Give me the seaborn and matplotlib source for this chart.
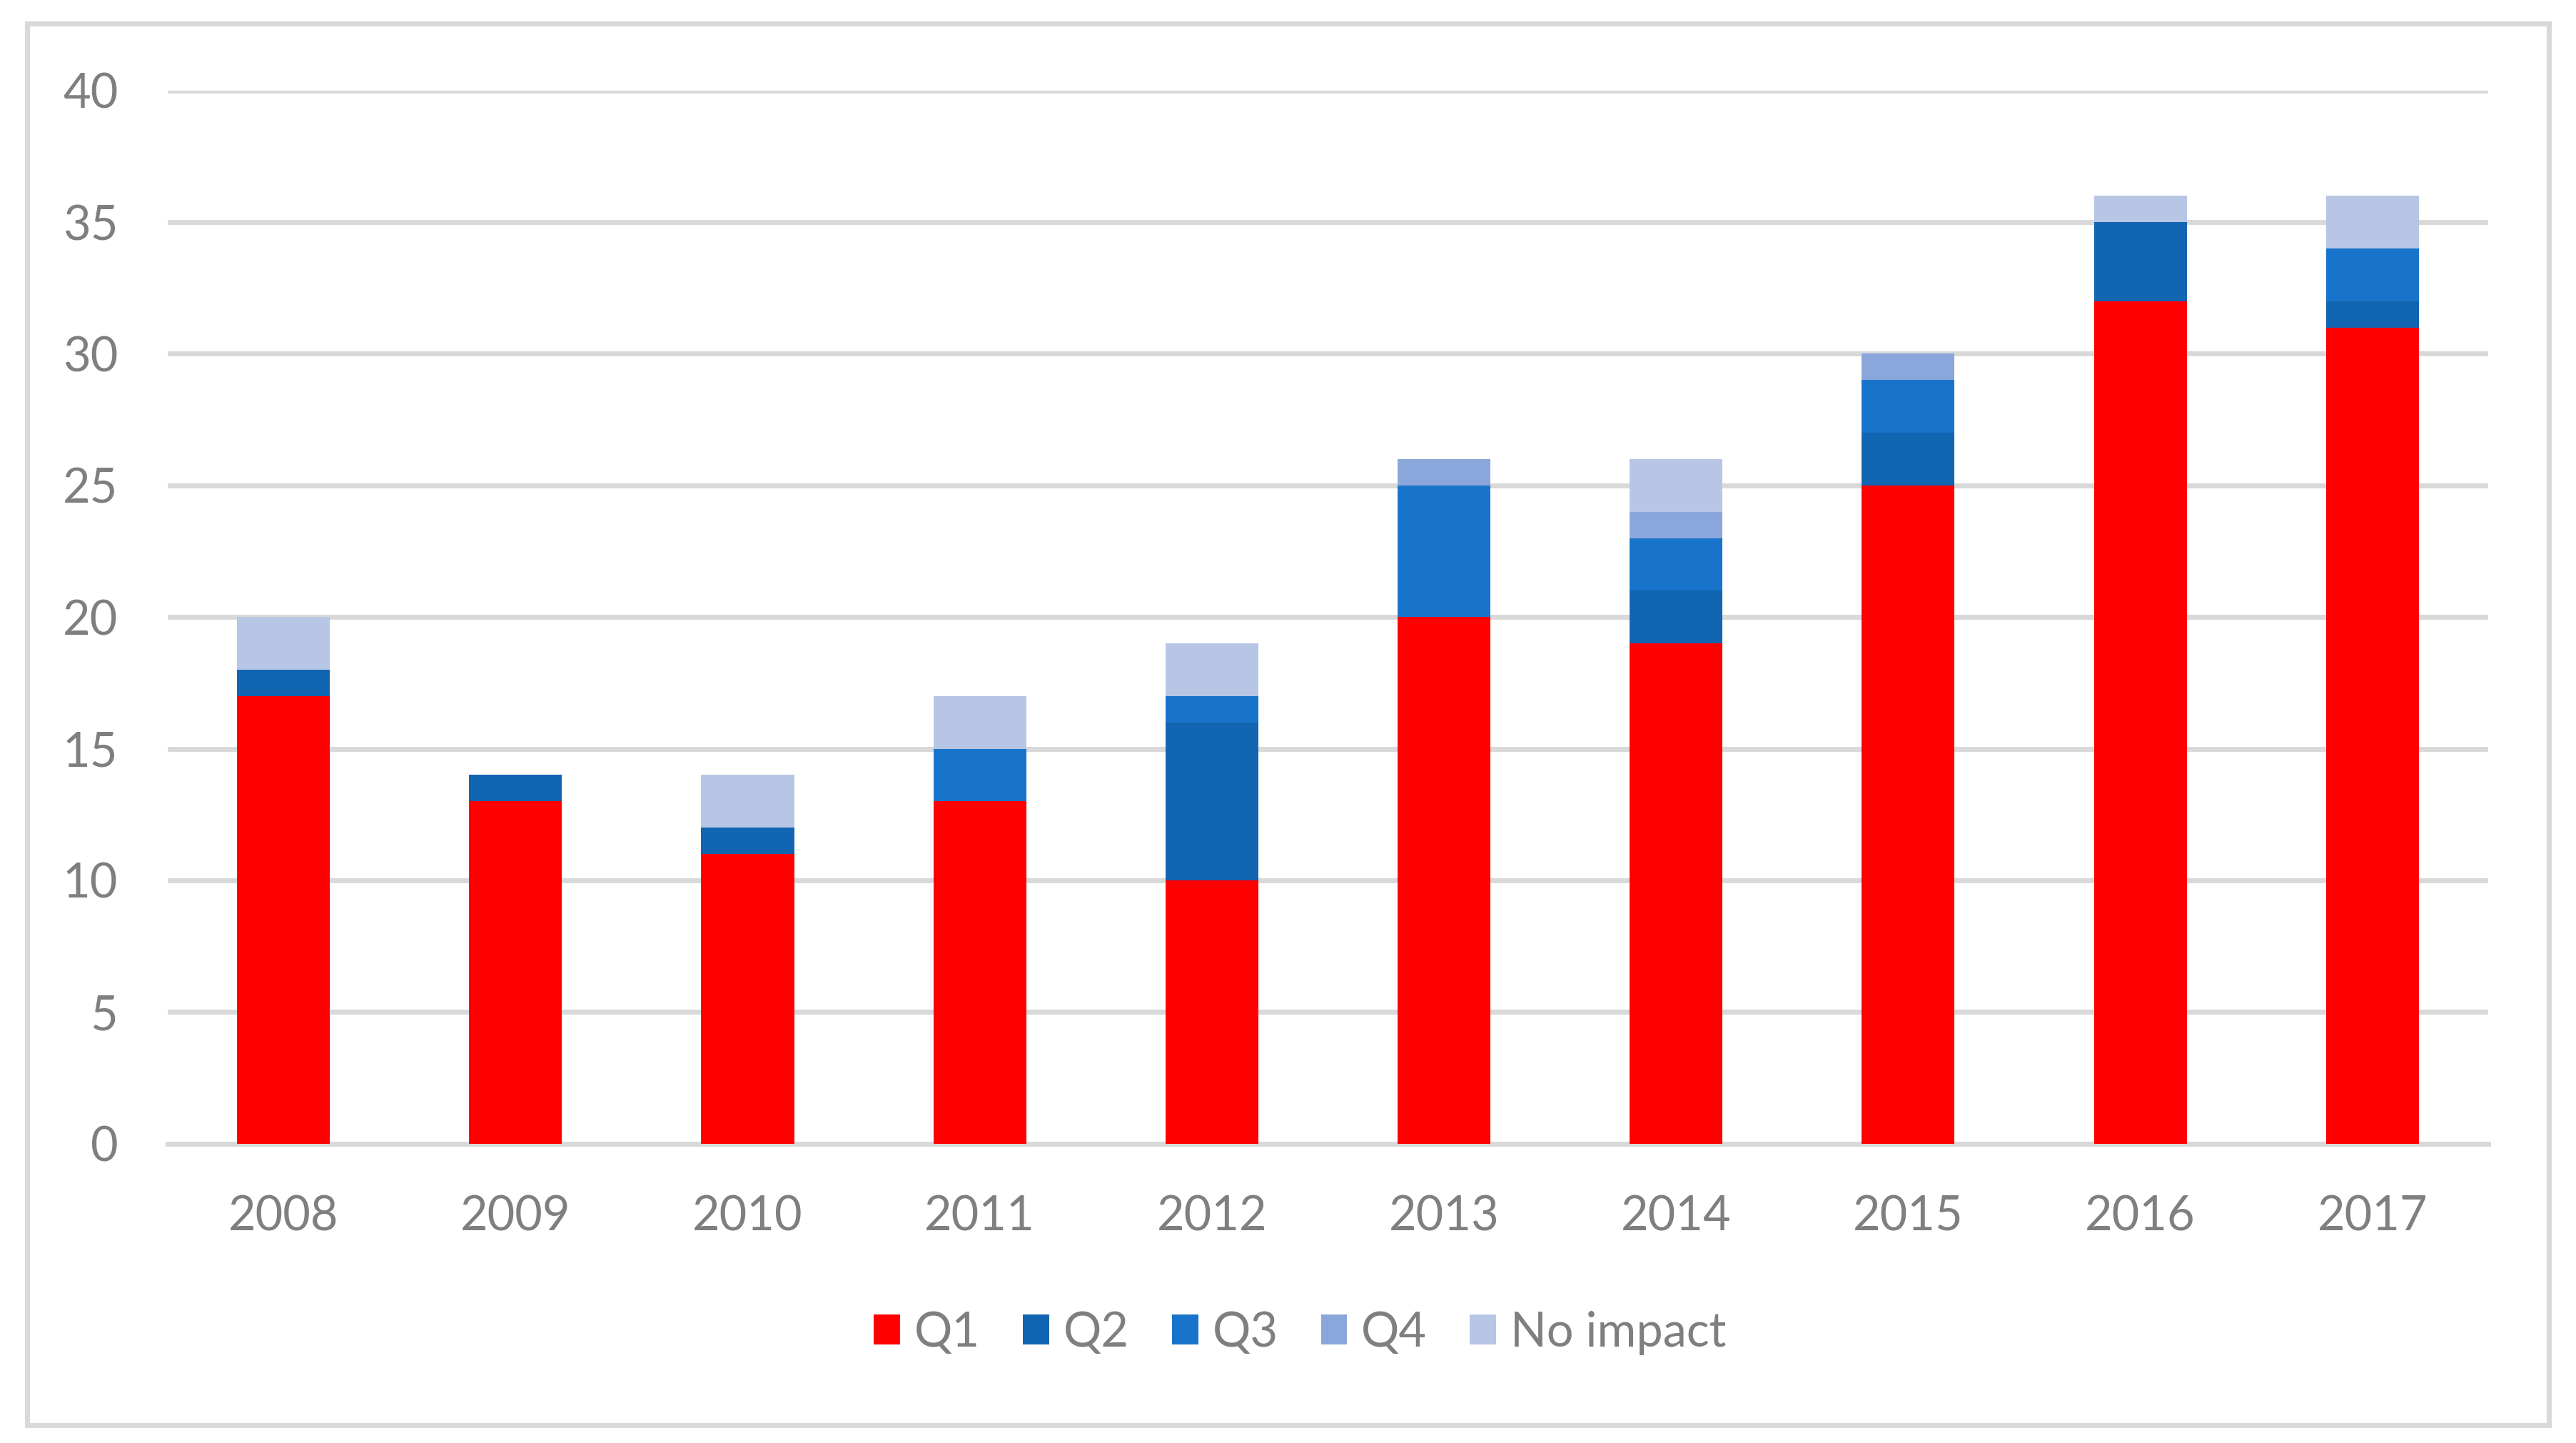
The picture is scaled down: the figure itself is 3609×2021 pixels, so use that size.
import numpy as np
import pandas as pd
import matplotlib
matplotlib.use("Agg")
import matplotlib.pyplot as plt
import seaborn as sns
from matplotlib.patches import Rectangle

# data
years = ["2008", "2009", "2010", "2011", "2012", "2013", "2014", "2015", "2016", "2017"]
q1 = [17, 13, 11, 13, 10, 20, 19, 25, 32, 31]
q2 = [1, 1, 1, 0, 6, 0, 2, 2, 3, 1]
q3 = [0, 0, 0, 2, 1, 5, 2, 2, 0, 2]
q4 = [0, 0, 0, 0, 0, 1, 1, 1, 0, 0]
no_impact = [2, 0, 2, 2, 2, 0, 2, 0, 1, 2]

series_names = ["Q1", "Q2", "Q3", "Q4", "No impact"]
series_colors = ["#FF0000", "#1265B1", "#1874CB", "#8BA6DA", "#B7C6E5"]

sns.set_theme(style="white")
plt.rcParams["font.family"] = ["Lato", "DejaVu Sans"]

fig = plt.figure(figsize=(18.045, 10.105), dpi=200)
ax = fig.add_axes([0.065, 0.2075, 0.901, 0.7298])

bottom = np.zeros(len(years))
for name, vals, col in zip(series_names, [q1, q2, q3, q4, no_impact], series_colors):
    df = pd.DataFrame({"Year": years, "Count": vals})
    sns.barplot(data=df, x="Year", y="Count", color=col, width=0.4,
                bottom=bottom, saturation=1, ax=ax, label=name,
                linewidth=0, zorder=3)
    bottom = bottom + np.array(vals)

ax.set_xlim(-0.5, 9.5)
ax.set_ylim(0, 40)
ax.set_yticks(range(0, 41, 5))
ax.set_xlabel("")
ax.set_ylabel("")
ax.grid(axis="y", color="#D9D9D9", linewidth=2.5, zorder=0)
for s in ["top", "right", "left"]:
    ax.spines[s].set_visible(False)
ax.spines["bottom"].set_color("#D9D9D9")
ax.spines["bottom"].set_linewidth(2.5)
ax.tick_params(axis="both", length=0, labelsize=24, labelcolor="#7F7F7F")
ax.tick_params(axis="x", pad=26)
ax.tick_params(axis="y", pad=25)

leg = ax.legend(loc="upper center", bbox_to_anchor=(0.488, -0.118), ncol=5,
                frameon=False, fontsize=24, handlelength=0.55, handleheight=0.6,
                handletextpad=0.3, columnspacing=0.9)
for t in leg.get_texts():
    t.set_color("#7F7F7F")

# outer chart border
fig.patches.append(Rectangle((0.0105, 0.0125), 0.979, 0.971, transform=fig.transFigure,
                             fill=False, edgecolor="#D9D9D9", linewidth=2.6))

fig.savefig("out.png", dpi=200, facecolor="white")
